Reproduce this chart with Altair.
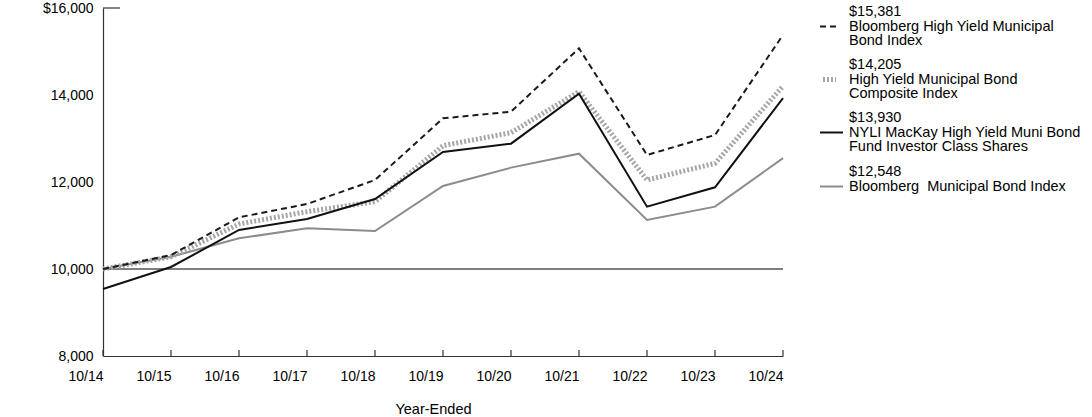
import altair as alt
import pandas as pd

years = ["10/14", "10/15", "10/16", "10/17", "10/18", "10/19", "10/20", "10/21", "10/22", "10/23", "10/24"]
fund = [9540, 10046, 10897, 11149, 11609, 12690, 12881, 14030, 11433, 11878, 13930]
hy_index = [10000, 10320, 11188, 11494, 12046, 13464, 13617, 15073, 12621, 13080, 15381]
composite = [10000, 10280, 11034, 11318, 11547, 12835, 13134, 14077, 12046, 12429, 14205]
muni = [10000, 10280, 10705, 10935, 10874, 11908, 12330, 12651, 11126, 11433, 12548]

series_names = [
    "Bloomberg High Yield Municipal Bond Index",
    "High Yield Municipal Bond Composite Index",
    "NYLI MacKay High Yield Muni Bond Fund Investor Class Shares",
    "Bloomberg  Municipal Bond Index",
]
legend_values = ["$15,381", "$14,205", "$13,930", "$12,548"]
legend_lines = [
    ["Bloomberg High Yield Municipal", "Bond Index"],
    ["High Yield Municipal Bond", "Composite Index"],
    ["NYLI MacKay High Yield Muni Bond", "Fund Investor Class Shares"],
    ["Bloomberg \u00a0Municipal Bond Index"],
]
y_ticks = [8000, 10000, 12000, 14000, 16000]
baseline_value = 10000

FONT = "Liberation Sans"
W, H = 680, 348

def frame(name, vals):
    return pd.DataFrame({"year": years, "value": vals, "series": name})

x_enc = alt.X("year:N", sort=years,
              scale=alt.Scale(type="point", padding=0),
              axis=alt.Axis(title="Year-Ended", labelAngle=0, ticks=False,
                            labelPadding=20, titlePadding=19, titleX=330,
                            labelFontSize=14, titleFontSize=14.5, titleFontWeight="normal",
                            domainColor="#333333", domainWidth=1.2,
                            labelColor="#000000", titleColor="#000000"))
y_scale = alt.Scale(domain=[8000, 16000], nice=False, zero=False)
y_enc = alt.Y("value:Q", scale=y_scale,
              axis=alt.Axis(title=None, values=y_ticks, ticks=False, grid=False,
                            labelExpr="datum.value == 16000 ? '$16,000' : format(datum.value, ',')",
                            labelPadding=10, labelFontSize=14, labelColor="#000000",
                            domainColor="#333333", domainWidth=1.2))

def line(df, color, width, dash=None):
    kw = dict(color=color, strokeWidth=width, clip=False)
    if dash:
        kw["strokeDash"] = dash
    return alt.Chart(df).mark_line(**kw).encode(x=x_enc, y=y_enc)

years_df = pd.DataFrame({"year": years})

base_rule = alt.Chart(pd.DataFrame({"v": [baseline_value]})).mark_rule(
    color="#555555", strokeWidth=1.5).encode(
    y=alt.Y("v:Q", scale=y_scale), x=alt.value(0), x2=alt.value(W))

top_tick = alt.Chart(pd.DataFrame({"v": [y_ticks[-1]]})).mark_rule(
    color="#333333", strokeWidth=1.2).encode(
    y=alt.Y("v:Q", scale=y_scale), x=alt.value(0), x2=alt.value(17))

x_ticks = alt.Chart(years_df).mark_rule(color="#333333", strokeWidth=1.2).encode(
    x=alt.X("year:N", sort=years, scale=alt.Scale(type="point", padding=0)),
    y=alt.value(H - 6), y2=alt.value(H))

layers = [
    base_rule, top_tick, x_ticks,
    line(frame(series_names[3], muni), "#8c8c8c", 2),
    line(frame(series_names[1], composite), "#a6a6a6", 5, [2, 2]),
    line(frame(series_names[0], hy_index), "#1a1a1a", 2, [6, 4]),
    line(frame(series_names[2], fund), "#111111", 2),
]

# manual legend
legend_top = [12, 65, 118, 172]
sym_styles = [
    dict(color="#1a1a1a", strokeWidth=2, strokeDash=[6, 4], x0=717, x1=737),
    dict(color="#a6a6a6", strokeWidth=5, strokeDash=[2, 2], x0=720, x1=733),
    dict(color="#111111", strokeWidth=2, x0=717, x1=740),
    dict(color="#8c8c8c", strokeWidth=2, x0=717, x1=740),
]
dummy = pd.DataFrame({"a": [0]})
LH = 14.5
for i in range(4):
    txt = [legend_values[i]] + legend_lines[i]
    t = alt.Chart(dummy).mark_text(
        text=txt, align="left", baseline="middle", fontSize=14.5, lineHeight=LH,
        font=FONT, color="#000000", clip=False).encode(
        x=alt.value(746), y=alt.value(legend_top[i] - 8))
    st = dict(sym_styles[i])
    x0, x1 = st.pop("x0"), st.pop("x1")
    s = alt.Chart(dummy).mark_rule(**st).encode(
        x=alt.value(x0), x2=alt.value(x1), y=alt.value(legend_top[i] + LH - 8))
    layers += [t, s]

chart = alt.layer(*layers).properties(
    width=W, height=H,
    padding={"left": 103, "top": 8, "right": 309, "bottom": 61},
    autosize="none",
).configure(font=FONT).configure_view(stroke=None)

chart.save("out.html", embed_options={"renderer": "svg", "actions": False})
